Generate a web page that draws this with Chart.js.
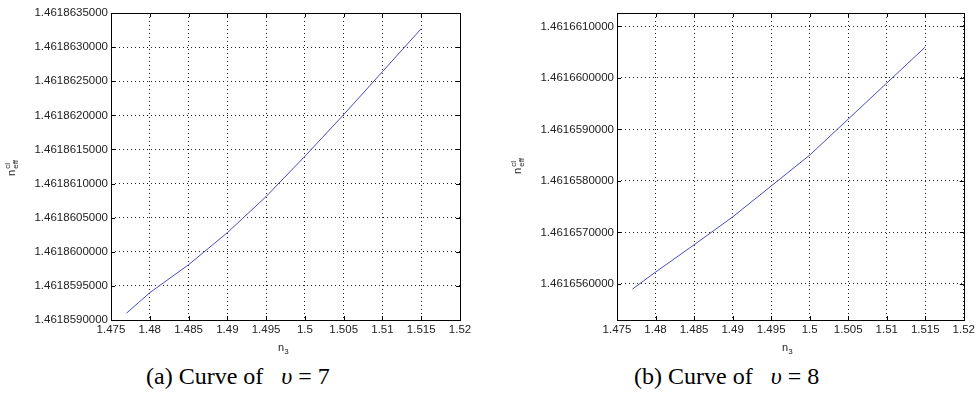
<!DOCTYPE html>
<html>
<head>
<meta charset="utf-8">
<script src="https://cdn.jsdelivr.net/npm/chart.js@4.4.1/dist/chart.umd.min.js"></script>
<style>
  html, body { margin: 0; padding: 0; background: #fff; }
  body { width: 978px; height: 401px; position: relative; overflow: hidden; font-family: "Liberation Sans", Arial, sans-serif; }
  .plot { position: absolute; top: 0; width: 489px; height: 345px; }
  .ylab { position: absolute; font-size: 11px; color: #222; transform: rotate(-90deg); transform-origin: center center; white-space: nowrap; }
  .ylab .ss { display: inline-block; vertical-align: middle; font-size: 8px; line-height: 8px; margin-left: 1px; }
  .ylab .ss span { display: block; }
  .xlab { position: absolute; font-size: 11px; color: #222; white-space: nowrap; }
  .xlab sub { font-size: 8px; }
  .cap { position: absolute; font-family: "Liberation Serif", "Times New Roman", serif; font-size: 24px; color: #000; white-space: nowrap; line-height: 24px; }
  .cap i { font-style: italic; }
</style>
</head>
<body>
<div class="plot" style="left:0"><canvas id="c1"></canvas></div>
<div class="plot" style="left:489px"><canvas id="c2"></canvas></div>

<div class="ylab" style="left:4px; top:160px;">n<span class="ss"><span>cl</span><span>eff</span></span></div>
<div class="ylab" style="left:510px; top:158px;">n<span class="ss"><span>cl</span><span>eff</span></span></div>
<div class="xlab" style="left:278px; top:341px;">n<sub>3</sub></div>
<div class="xlab" style="left:782px; top:341px;">n<sub>3</sub></div>

<div class="cap" style="left:146px; top:364px;">(a) Curve of&nbsp;&nbsp; <i>υ</i> = 7</div>
<div class="cap" style="left:634px; top:364px;">(b) Curve of&nbsp;&nbsp; <i>υ</i> = 8</div>

<script>
// eje x compartido (n3)
const xTicks = [1.475, 1.48, 1.485, 1.49, 1.495, 1.5, 1.505, 1.51, 1.515, 1.52];
const xTickLabels = ["1.475", "1.48", "1.485", "1.49", "1.495", "1.5", "1.505", "1.51", "1.515", "1.52"];

// (a) v = 7
const n3A = [1.477, 1.48, 1.485, 1.49, 1.495, 1.5, 1.505, 1.51, 1.515];
const neffA = [1.4618591, 1.4618594, 1.46185981, 1.46186028, 1.46186081, 1.4618614, 1.46186201, 1.46186264, 1.46186327];
const yTicksA = [1.461859, 1.4618595, 1.46186, 1.4618605, 1.461861, 1.4618615, 1.461862, 1.4618625, 1.461863, 1.4618635];
const yMinA = 1.461859, yMaxA = 1.4618635;

// (b) v = 8
const n3B = [1.477, 1.48, 1.485, 1.49, 1.495, 1.5, 1.505, 1.51, 1.515];
const neffB = [1.4616559, 1.46165623, 1.46165676, 1.4616573, 1.4616579, 1.4616585, 1.4616592, 1.4616599, 1.4616606];
const yTicksB = [1.461656, 1.461657, 1.461658, 1.461659, 1.46166, 1.461661];
const yMinB = 1.4616553, yMaxB = 1.46166126;

// Marco completo y marcas hacia dentro (estilo MATLAB)
const boxPlugin = {
  id: "box",
  afterDraw(chart) {
    const { ctx, chartArea: a, scales } = chart;
    ctx.save();
    ctx.strokeStyle = "#000";
    ctx.lineWidth = 1;
    ctx.strokeRect(Math.round(a.left) + 0.5, Math.round(a.top) + 0.5, Math.round(a.right - a.left), Math.round(a.bottom - a.top));
    ctx.beginPath();
    const tl = 4;
    scales.x.ticks.forEach(t => {
      const px = Math.round(scales.x.getPixelForValue(t.value)) + 0.5;
      ctx.moveTo(px, a.bottom); ctx.lineTo(px, a.bottom - tl);
      ctx.moveTo(px, a.top); ctx.lineTo(px, a.top + tl);
    });
    scales.y.ticks.forEach(t => {
      const py = Math.round(scales.y.getPixelForValue(t.value)) + 0.5;
      ctx.moveTo(a.left, py); ctx.lineTo(a.left + tl, py);
      ctx.moveTo(a.right, py); ctx.lineTo(a.right - tl, py);
    });
    ctx.stroke();
    ctx.restore();
  }
};

function makeChart(id, xs, ys, yTicks, yMin, yMax, yWidth, padRight) {
  const ctx = document.getElementById(id).getContext("2d");
  return new Chart(ctx, {
    type: "line",
    data: {
      datasets: [{
        data: xs.map((x, i) => ({ x: x, y: ys[i] })),
        borderColor: "#4a4abf",
        borderWidth: 1,
        pointRadius: 0,
        tension: 0,
        fill: false
      }]
    },
    options: {
      responsive: true,
      maintainAspectRatio: false,
      animation: false,
      layout: { padding: { top: 13, right: padRight, bottom: 0, left: 0 } },
      plugins: { legend: { display: false }, tooltip: { enabled: false } },
      scales: {
        x: {
          type: "linear",
          min: 1.475,
          max: 1.52,
          afterBuildTicks: s => { s.ticks = xTicks.map(v => ({ value: v })); },
          afterFit: s => { s.height = 25; },
          ticks: {
            callback: (v, i) => xTickLabels[i],
            color: "#222",
            font: { family: "Liberation Sans", size: 11.5 },
            padding: 3,
            maxRotation: 0,
            autoSkip: false
          },
          grid: { color: "#222", lineWidth: 1, drawTicks: false },
          border: { display: false, dash: [1, 3] }
        },
        y: {
          type: "linear",
          min: yMin,
          max: yMax,
          afterBuildTicks: s => { s.ticks = yTicks.map(v => ({ value: v })); },
          afterFit: s => { s.width = yWidth; },
          ticks: {
            callback: v => v.toFixed(10),
            color: "#222",
            font: { family: "Liberation Sans", size: 11.5 },
            padding: 3,
            autoSkip: false
          },
          grid: { color: "#222", lineWidth: 1, drawTicks: false },
          border: { display: false, dash: [1, 3] }
        }
      }
    },
    plugins: [boxPlugin]
  });
}

makeChart("c1", n3A, neffA, yTicksA, yMinA, yMaxA, 111, 29);
makeChart("c2", n3B, neffB, yTicksB, yMinB, yMaxB, 128, 12);
</script>
</body>
</html>
